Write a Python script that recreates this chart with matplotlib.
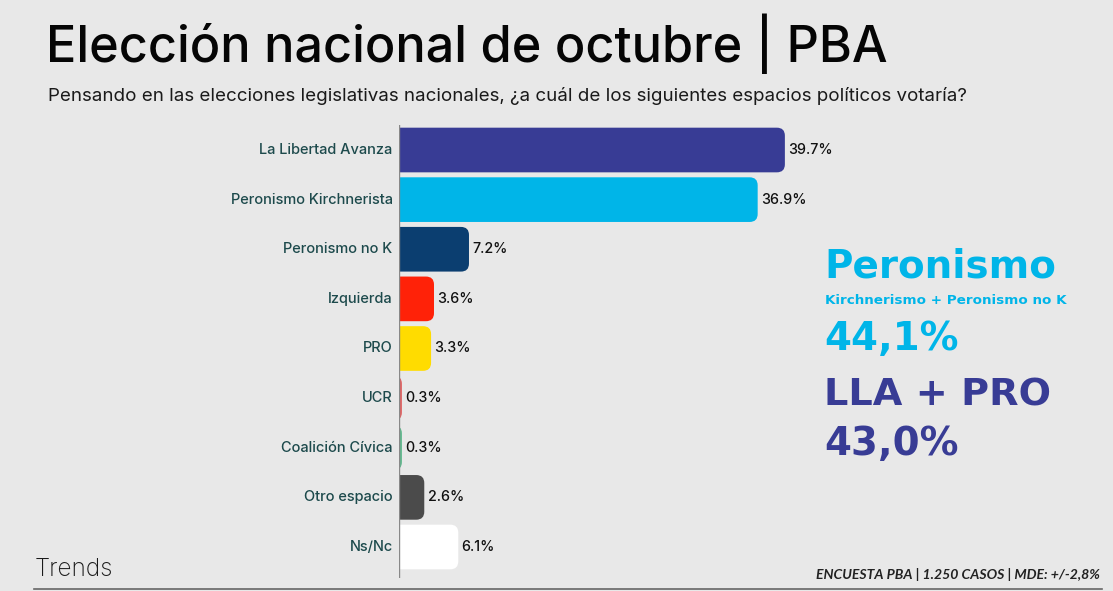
import matplotlib
matplotlib.use("Agg")
import matplotlib.pyplot as plt
from matplotlib.patches import FancyBboxPatch
from matplotlib.lines import Line2D

categories = ["La Libertad Avanza", "Peronismo Kirchnerista", "Peronismo no K", "Izquierda",
              "PRO", "UCR", "Coalición Cívica", "Otro espacio", "Ns/Nc"]
values = [39.7, 36.9, 7.2, 3.6, 3.3, 0.3, 0.3, 2.6, 6.1]
value_labels = ["39.7%", "36.9%", "7.2%", "3.6%", "3.3%", "0.3%", "0.3%", "2.6%", "6.1%"]
colors = ["#383c95", "#00b5e8", "#0b3e70", "#ff2208", "#ffdc00", "#e06262", "#5fb88d", "#4b4b4b", "#ffffff"]

title = "Elección nacional de octubre | PBA"
subtitle = "Pensando en las elecciones legislativas nacionales, ¿a cuál de los siguientes espacios políticos votaría?"
side_title1 = "Peronismo"
side_sub1 = "Kirchnerismo + Peronismo no K"
side_val1 = "44,1%"
side_title2 = "LLA + PRO"
side_val2 = "43,0%"
brand = "Trends"
footnote = "ENCUESTA PBA | 1.250 CASOS | MDE: +/-2,8%"

BG = "#e8e8e8"
W, H = 1113, 591
fig = plt.figure(figsize=(W / 100, H / 100), dpi=100, facecolor=BG)

# axes: left at x=399 px, top at y=125, bottom at y=578
xmax = 45.0
px_per_unit = 9.72
ax_left = 399 / W
ax_w = xmax * px_per_unit / W
ax_bottom = 1 - 578 / H
ax_h = (578 - 125) / H
ax = fig.add_axes([ax_left, ax_bottom, ax_w, ax_h])
ax.set_facecolor("none")
ax.set_xlim(0, xmax)
ax.set_ylim(len(categories) - 1 + 0.625, -0.504)
for s in ax.spines.values():
    s.set_visible(False)
ax.set_xticks([])
ax.set_yticks([])

bar_h = 0.9
y_px_per_unit = (578 - 125) / (len(categories) - 1 + 0.625 + 0.504)
aspect = px_per_unit / y_px_per_unit
radius = 8 / px_per_unit
start = -1.8
for i, (v, c) in enumerate(zip(values, colors)):
    p = FancyBboxPatch((start, i - bar_h / 2), v - start, bar_h,
                       boxstyle=f"round,pad=0,rounding_size={radius}",
                       mutation_aspect=aspect, facecolor=c, edgecolor="none",
                       clip_on=True, zorder=2)
    ax.add_patch(p)
    p.set_clip_path(ax.patch)
    ax.text(v + 0.35, i, value_labels[i], va="center", ha="left", fontsize=10.3,
            family="Inter", fontweight="medium", color="#111111", zorder=3)
    ax.text(-0.65, i, categories[i], va="center", ha="right", fontsize=10.5,
            family="Inter", fontweight="medium", color="#1d4a4c", zorder=3)

# axis line
ax.axvline(0, color="#888888", lw=1.0, zorder=4)

# title and subtitle
fig.text(46 / W, 1 - 62 / H, title, fontsize=36.3, family="Inter", fontweight="medium",
         color="#050505", ha="left", va="baseline")
fig.text(48 / W, 1 - 101 / H, subtitle, fontsize=13.5, family="Inter",
         color="#1a1a1a", ha="left", va="baseline")

# side annotations
side_font = "DejaVu Sans"
fig.text(824 / W, 1 - 278 / H, side_title1, fontsize=28, family=side_font, fontweight="bold",
         color="#00b5e8", ha="left", va="baseline")
fig.text(825 / W, 1 - 304 / H, side_sub1, fontsize=9.7, family=side_font, fontweight="bold",
         color="#00b5e8", ha="left", va="baseline")
fig.text(824 / W, 1 - 350 / H, side_val1, fontsize=27.9, family=side_font, fontweight="bold",
         color="#00b5e8", ha="left", va="baseline")
fig.text(824 / W, 1 - 405 / H, side_title2, fontsize=27.5, family=side_font, fontweight="bold",
         color="#383c95", ha="left", va="baseline")
fig.text(824 / W, 1 - 455 / H, side_val2, fontsize=27.9, family=side_font, fontweight="bold",
         color="#383c95", ha="left", va="baseline")

# footer
fig.text(35 / W, 1 - 576 / H, brand, fontsize=17.5, family="Inter", fontweight="light",
         color="#1a1a1a", ha="left", va="baseline")
fig.text(1100 / W, 1 - 579 / H, footnote, fontsize=10.1, family="Lato", fontweight="bold",
         style="italic", color="#222222", ha="right", va="baseline")
fig.add_artist(Line2D([34 / W, 1102 / W], [1 - 589 / H, 1 - 589 / H], color="#666666", lw=1.2))

fig.savefig("out.png", dpi=100, facecolor=BG)
